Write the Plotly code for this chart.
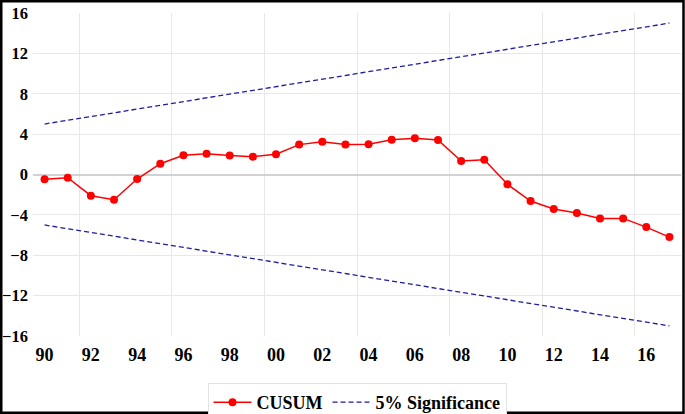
import plotly.graph_objects as go

# CUSUM statistic, yearly 1990-2017
years = [1990, 1991, 1992, 1993, 1994, 1995, 1996, 1997, 1998, 1999,
         2000, 2001, 2002, 2003, 2004, 2005, 2006, 2007, 2008, 2009,
         2010, 2011, 2012, 2013, 2014, 2015, 2016, 2017]
cusum = [-0.48, -0.32, -2.10, -2.50, -0.45, 1.07, 1.90, 2.06, 1.87, 1.77,
         2.00, 2.96, 3.25, 2.98, 3.00, 3.45, 3.59, 3.42, 1.34, 1.47,
         -0.97, -2.63, -3.42, -3.82, -4.35, -4.35, -5.21, -6.20]

# 5% significance bounds (straight lines between the end years)
bound_years = [1990, 2017]
upper_bound = [5.0, 15.0]
lower_bound = [-5.0, -15.0]

x_tickvals = [1990, 1992, 1994, 1996, 1998, 2000, 2002, 2004, 2006, 2008,
              2010, 2012, 2014, 2016]
x_ticktext = ["90", "92", "94", "96", "98", "00", "02", "04", "06", "08",
              "10", "12", "14", "16"]
y_tickvals = [-16, -12, -8, -4, 0, 4, 8, 12, 16]

W, H = 685, 414
ML, MR, MT, MB = 33, 4, 13, 78
PW, PH = W - ML - MR, H - MT - MB

font = dict(family="Liberation Serif", size=18, color="black", weight="bold")
band_color = "#1E1E9E"

fig = go.Figure()

fig.add_trace(go.Scatter(x=years, y=cusum, mode="lines+markers", name="CUSUM",
                         line=dict(color="#FF0000", width=1.5),
                         marker=dict(color="#FF0000", size=8)))
fig.add_trace(go.Scatter(x=bound_years, y=upper_bound, mode="lines",
                         name="5% Significance",
                         line=dict(color=band_color, width=1.3, dash="5px,3px")))
fig.add_trace(go.Scatter(x=bound_years, y=lower_bound, mode="lines",
                         showlegend=False,
                         line=dict(color=band_color, width=1.3, dash="5px,3px")))

fig.update_layout(
    width=W, height=H,
    margin=dict(l=ML, r=MR, t=MT, b=MB, autoexpand=False),
    paper_bgcolor="white", plot_bgcolor="white",
    font=font,
    showlegend=True,
    legend=dict(orientation="h", x=0.5, xanchor="center", xref="paper",
                y=31 / H, yanchor="top", yref="container",
                itemwidth=38,
                bordercolor="#E2E2E2", borderwidth=1, bgcolor="white",
                font=font),
    xaxis=dict(range=[1989.5, 2017.5], tickvals=x_tickvals, ticktext=x_ticktext,
               showgrid=False, zeroline=False, showline=False, automargin=False,
               ticks="", ticklabelstandoff=6,
               minor=dict(tick0=1991.5, dtick=4, showgrid=True,
                          gridcolor="#E8E8E8", gridwidth=1, ticks="")),
    yaxis=dict(range=[-16, 16], tickvals=y_tickvals, automargin=False,
               tickfont=dict(size=16.5),
               showgrid=True, gridcolor="#E8E8E8", gridwidth=1,
               zeroline=True, zerolinecolor="#D2D2D2", zerolinewidth=2,
               showline=False, ticks="", ticklabelstandoff=4),
)

# black frame round the whole picture
fig.add_shape(type="rect", xref="paper", yref="paper",
              x0=(-ML + 1.25) / PW, x1=1 + (MR - 1.5) / PW,
              y0=(-MB + 1.25) / PH, y1=1 + (MT - 1.25) / PH,
              line=dict(color="black", width=2.5), layer="above")

# page body has a default margin; drop it so the chart sits at the corner
fig.write_html("out.html",
               config={"displayModeBar": False},
               post_script="document.body.style.margin='0';"
                           "document.body.style.overflow='hidden';")
